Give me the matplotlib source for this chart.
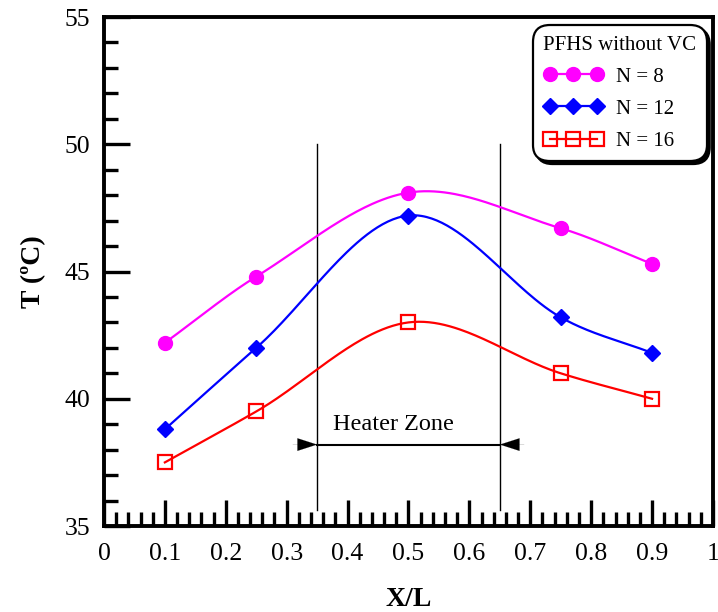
import numpy as np
import matplotlib
matplotlib.use("Agg")
import matplotlib.pyplot as plt
from matplotlib.ticker import MultipleLocator

plt.rcParams['font.family'] = ['Liberation Serif', 'DejaVu Serif']

x_pos = [0.1, 0.25, 0.5, 0.75, 0.9]
t_n8 = [42.2, 44.8, 48.1, 46.7, 45.3]
t_n12 = [38.8, 42.0, 47.2, 43.2, 41.8]
t_n16 = [37.5, 39.5, 43.0, 41.0, 40.0]
labels = ["N = 8", "N = 12", "N = 16"]
legend_title = "PFHS without VC"
heater_zone = [0.35, 0.65]


def smooth_curve(x, y, n=60):
    """Cubic Hermite (Catmull-Rom style) curve through the points."""
    x = np.asarray(x, float)
    y = np.asarray(y, float)
    k = len(x)
    m = np.empty(k)
    m[0] = (y[1] - y[0]) / (x[1] - x[0])
    m[-1] = (y[-1] - y[-2]) / (x[-1] - x[-2])
    for i in range(1, k - 1):
        m[i] = (y[i + 1] - y[i - 1]) / (x[i + 1] - x[i - 1])
    xs_all, ys_all = [], []
    for i in range(k - 1):
        h = x[i + 1] - x[i]
        t = np.linspace(0, 1, n)
        h00 = 2 * t ** 3 - 3 * t ** 2 + 1
        h10 = t ** 3 - 2 * t ** 2 + t
        h01 = -2 * t ** 3 + 3 * t ** 2
        h11 = t ** 3 - t ** 2
        xs_all.append(x[i] + t * h)
        ys_all.append(h00 * y[i] + h10 * h * m[i] + h01 * y[i + 1] + h11 * h * m[i + 1])
    return np.concatenate(xs_all), np.concatenate(ys_all)


fig = plt.figure(figsize=(7.18, 6.12), dpi=100)
ax = fig.add_axes([0.1448, 0.1405, 0.8482, 0.8317])

styles = [
    dict(color='#ff00ff', marker='o', ms=10, mfc='#ff00ff', mec='#ff00ff'),
    dict(color='#0000ff', marker='D', ms=8.5, mfc='#0000ff', mec='#0000ff'),
    dict(color='#ff0000', marker='s', ms=10.5, mfc='none', mec='#ff0000', mew=1.6),
]
for ys, lab, st in zip([t_n8, t_n12, t_n16], labels, styles):
    sx, sy = smooth_curve(x_pos, ys)
    ax.plot(sx, sy, color=st['color'], lw=1.6, zorder=3)
    ax.plot(x_pos, ys, ls='none', zorder=4, **st)
    ax.plot([], [], lw=1.6, label=lab, **st)

# heater zone
for xv in heater_zone:
    ax.plot([xv, xv], [35.63, 50], color='black', lw=1.0, zorder=2)
arrow_kw = dict(arrowstyle='-|>,head_length=1.4,head_width=0.45', color='black',
                lw=0.1, shrinkA=0, shrinkB=0)
ax.annotate('', xy=(heater_zone[0], 38.2), xytext=(heater_zone[0] - 0.04, 38.2), arrowprops=arrow_kw)
ax.annotate('', xy=(heater_zone[1], 38.2), xytext=(heater_zone[1] + 0.04, 38.2), arrowprops=arrow_kw)
ax.plot(heater_zone, [38.2, 38.2], color='black', lw=1.5)
ax.text(0.4755, 39.0, 'Heater Zone', ha='center', va='center', fontsize=17.5)

ax.set_xlim(0, 1)
ax.set_ylim(35, 55)
ax.xaxis.set_major_locator(MultipleLocator(0.1))
ax.xaxis.set_minor_locator(MultipleLocator(0.02))
ax.yaxis.set_major_locator(MultipleLocator(5))
ax.yaxis.set_minor_locator(MultipleLocator(1))
ax.xaxis.set_major_formatter(plt.FuncFormatter(
    lambda v, p: '0' if abs(v) < 1e-9 else ('1' if abs(v - 1) < 1e-9 else f'{v:.1f}')))
ax.tick_params(which='both', direction='in', top=False, right=False, labelsize=18.5, width=2.4)
ax.tick_params(axis='x', which='major', pad=12)
ax.tick_params(axis='y', which='major', pad=10)
ax.tick_params(which='major', length=19)
ax.tick_params(which='minor', length=10)
for s in ax.spines.values():
    s.set_linewidth(2.8)

ax.set_xlabel('X/L', fontsize=20, fontweight='bold', labelpad=16)
ax.set_ylabel('T (ºC)', fontsize=20, fontweight='bold', labelpad=13)

leg = ax.legend(title=legend_title, loc='upper right', bbox_to_anchor=(0.99, 0.984), fontsize=15,
                title_fontsize=15, numpoints=3, handlelength=2.85, fancybox=True,
                shadow={'color': 'black', 'alpha': 1.0},
                frameon=True, borderpad=0.5, labelspacing=0.6, handletextpad=0.65,
                borderaxespad=0, framealpha=1)
leg._legend_box.align = 'left'
fr = leg.get_frame()
fr.set_edgecolor('black')
fr.set_linewidth(1.6)
fr.set_boxstyle('round,pad=0,rounding_size=0.8')

fig.savefig('out.png', dpi=100)
